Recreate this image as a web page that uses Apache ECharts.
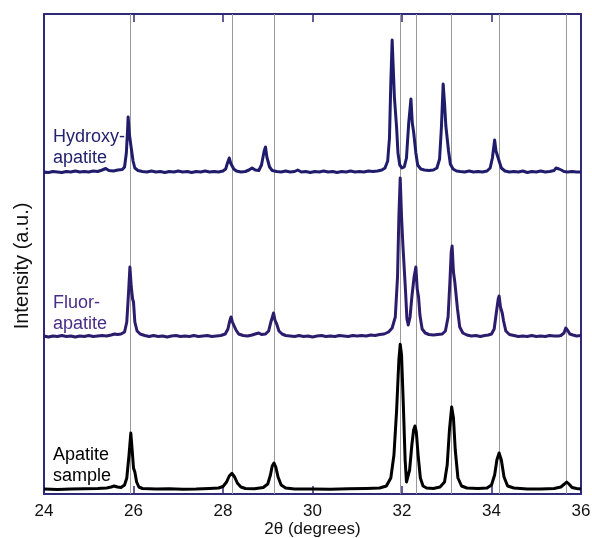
<!DOCTYPE html>
<html>
<head>
<meta charset="utf-8">
<script src="https://cdn.jsdelivr.net/npm/echarts@6/dist/echarts.min.js"></script>
<style>html,body{margin:0;padding:0;background:#fff}#c{width:592px;height:538px}</style>
</head>
<body>
<div id="c"></div>
<script>
// ---- data: [2theta (deg), intensity (a.u., relative to own baseline)] ----
const seriesNames = ["Hydroxy-\napatite", "Fluor-\napatite", "Apatite\nsample"];
const offsets = [317, 153, 0];          // vertical stacking offsets (a.u.)
const refLines = [25.93, 28.2, 29.14, 31.97, 32.31, 33.11, 34.17, 35.68];
const xTicks = [24, 26, 28, 30, 32, 34, 36];

const hydroxy = [
[24.0,1],[24.1,0.5],[24.2,1.5],[24.3,1],[24.4,0.5],[24.5,1.5],[24.6,1],[24.7,2],[24.8,1],[24.9,1.5],[25.0,1],[25.1,2],[25.2,1.5],[25.3,3],[25.38,4.5],[25.45,2.5],[25.55,2],[25.65,3],[25.75,3.5],[25.8,6],[25.84,20],[25.87,45],[25.88,56],[25.91,38],[25.94,28],[25.96,28],[25.99,12],[26.03,5],[26.1,2.5],[26.2,1.5],[26.3,1],[26.4,2],[26.5,1],[26.6,1.5],[26.7,0.5],[26.8,1.5],[26.9,1],[27.0,2],[27.1,1],[27.2,1.5],[27.3,0.5],[27.4,1.5],[27.5,1],[27.6,2],[27.7,1],[27.8,1.5],[27.9,1],[28.0,2],[28.06,4],[28.1,10],[28.14,15],[28.17,10],[28.2,8],[28.24,4],[28.3,2],[28.4,1],[28.5,1.5],[28.58,3],[28.65,5],[28.72,3],[28.8,2.5],[28.86,8],[28.92,22],[28.95,26],[28.98,16],[29.0,14],[29.04,6],[29.1,2.5],[29.2,1.5],[29.3,1],[29.4,2],[29.5,1],[29.6,1.5],[29.67,3],[29.75,1],[29.85,1.5],[29.95,0.5],[30.05,1.5],[30.15,1],[30.25,2],[30.35,1],[30.45,1.5],[30.55,0.5],[30.65,1.5],[30.75,1],[30.85,2],[30.95,1],[31.05,1.5],[31.15,1],[31.25,2],[31.35,1.5],[31.45,2],[31.55,3],[31.62,5],[31.68,12],[31.72,35],[31.75,90],[31.78,133],[31.8,110],[31.83,76],[31.86,76],[31.88,45],[31.91,20],[31.95,8],[32.0,5],[32.05,6],[32.1,15],[32.15,50],[32.2,74],[32.23,50],[32.26,41],[32.28,40],[32.31,20],[32.35,8],[32.42,4],[32.5,3],[32.6,2.5],[32.7,3],[32.78,5],[32.84,14],[32.88,45],[32.92,89],[32.95,70],[32.98,47],[33.01,45],[33.04,22],[33.08,9],[33.14,4],[33.22,2],[33.3,1.5],[33.4,1],[33.5,2],[33.6,1],[33.7,1.5],[33.8,1],[33.9,2],[33.97,5],[34.02,15],[34.07,33],[34.1,22],[34.14,20],[34.17,12],[34.22,5],[34.3,2],[34.4,1],[34.5,1.5],[34.6,1],[34.7,2],[34.8,0.5],[34.9,1.5],[35.0,1],[35.1,2],[35.2,1],[35.3,1.5],[35.4,2.5],[35.44,5],[35.47,7],[35.51,4],[35.56,3],[35.62,1.5],[35.7,1],[35.8,1.5],[35.9,1],[36.0,1]
];

const fluor = [
[24.0,1],[24.1,0],[24.2,1],[24.3,0.5],[24.4,1.5],[24.5,0.5],[24.6,1],[24.7,0],[24.8,1],[24.9,0.5],[25.0,1.5],[25.1,0.5],[25.2,1],[25.3,1.5],[25.4,1],[25.5,2],[25.58,3],[25.64,2.5],[25.72,3],[25.8,5],[25.85,15],[25.89,45],[25.92,70],[25.95,50],[25.98,38],[26.0,35],[26.03,15],[26.08,6],[26.15,3],[26.25,1.5],[26.35,0.5],[26.45,1.5],[26.55,0.5],[26.65,1],[26.75,0],[26.85,1],[26.95,1.5],[27.05,0.5],[27.15,1],[27.25,0.5],[27.35,1.5],[27.45,0.5],[27.55,1],[27.65,1.5],[27.75,0.5],[27.85,1],[27.95,1.5],[28.05,3],[28.11,8],[28.15,16],[28.18,20],[28.21,15],[28.25,13],[28.29,7],[28.35,3],[28.45,1.5],[28.55,1],[28.65,2],[28.72,3],[28.8,4],[28.86,2.5],[28.95,3],[29.02,6],[29.07,15],[29.13,24],[29.16,17],[29.2,13],[29.25,6],[29.32,3],[29.4,1.5],[29.5,1],[29.6,0.5],[29.7,1.5],[29.8,0.5],[29.9,1],[30.0,0],[30.1,1],[30.2,1.5],[30.3,0.5],[30.4,1],[30.5,0.5],[30.6,1.5],[30.7,1],[30.8,0.5],[30.9,1.5],[31.0,1],[31.1,1.5],[31.2,1],[31.3,2],[31.4,1.5],[31.5,2.5],[31.6,3],[31.7,5],[31.78,9],[31.85,20],[31.9,60],[31.93,120],[31.96,159],[31.99,120],[32.02,92],[32.05,90],[32.08,45],[32.11,18],[32.14,12],[32.18,20],[32.22,40],[32.27,60],[32.31,70],[32.34,48],[32.37,40],[32.4,22],[32.45,8],[32.52,4],[32.6,2.5],[32.7,2],[32.8,2.5],[32.9,3],[32.97,6],[33.03,20],[33.07,55],[33.1,85],[33.12,91],[33.15,65],[33.18,55],[33.21,54],[33.24,28],[33.29,10],[33.36,4],[33.45,2],[33.55,1],[33.65,1.5],[33.75,0.5],[33.85,1.5],[33.93,2],[34.0,3],[34.06,8],[34.11,25],[34.15,38],[34.17,41],[34.2,30],[34.24,24],[34.27,16],[34.32,6],[34.4,2.5],[34.5,1.5],[34.6,0.5],[34.7,1],[34.8,0.5],[34.9,1.5],[35.0,0.5],[35.1,1],[35.2,0.5],[35.3,1.5],[35.4,1],[35.5,1],[35.55,1.5],[35.62,4],[35.66,9],[35.68,10],[35.71,6],[35.75,3],[35.82,2],[35.9,1],[36.0,1.5]
];

const apatite = [
[24.0,1],[24.3,0.5],[24.6,1],[24.9,1.2],[25.2,1.5],[25.4,2],[25.5,3],[25.57,4],[25.64,3],[25.72,2.5],[25.8,5],[25.85,12],[25.9,35],[25.94,57],[25.97,40],[26.0,22],[26.03,18],[26.07,8],[26.12,3],[26.2,1.5],[26.5,1],[26.8,1.2],[27.1,0.8],[27.4,1],[27.7,1.5],[27.9,2],[28.0,3.5],[28.08,8],[28.14,14],[28.2,16.7],[28.26,13],[28.32,7],[28.4,3],[28.5,1.5],[28.7,1.2],[28.9,2.5],[29.0,6],[29.06,15],[29.1,24],[29.14,27],[29.18,23],[29.23,13],[29.3,5],[29.4,2],[29.6,1],[30.0,1],[30.4,0.8],[30.8,1.2],[31.2,1.5],[31.5,2],[31.65,4],[31.75,12],[31.82,35],[31.88,80],[31.93,130],[31.96,145.7],[31.99,135],[32.03,85],[32.07,30],[32.1,8],[32.13,6],[32.17,20],[32.22,45],[32.26,60],[32.29,64],[32.32,58],[32.36,35],[32.41,12],[32.47,4],[32.55,2],[32.7,1.5],[32.85,3],[32.95,8],[33.01,25],[33.06,60],[33.11,83],[33.15,72],[33.19,40],[33.25,12],[33.33,4],[33.45,2],[33.7,1.5],[33.9,2],[34.0,5],[34.07,15],[34.12,30],[34.17,37],[34.22,30],[34.28,13],[34.36,4],[34.5,2],[34.8,1],[35.1,1],[35.4,1.5],[35.55,3],[35.63,6],[35.68,8],[35.73,6],[35.8,2.5],[35.9,1.5],[36.0,1]
];

// ---- styling ----
const FONT = "'Liberation Sans', Arial, Helvetica, sans-serif";
const FRAME = '#2e2a78';
const lineColors = ['#201c6c', '#2c1c6c', '#000000'];
const labelColors = ['#22226e', '#4a2d88', '#000000'];
const seriesData = [hydroxy, fluor, apatite];

const chart = echarts.init(document.getElementById('c'), null, {renderer: 'canvas'});

const series = seriesData.map((d, i) => ({
  type: 'line',
  name: seriesNames[i],
  data: d.map(p => [p[0], p[1] + offsets[i]]),
  showSymbol: false,
  symbol: 'none',
  smooth: false,
  lineStyle: {color: lineColors[i], width: 3, join: 'round'},
  z: 5,
  animation: false
}));

series.push({
  type: 'line',
  data: [],
  z: 1,
  silent: true,
  animation: false,
  markLine: {
    silent: true,
    symbol: ['none', 'none'],
    label: {show: false},
    lineStyle: {color: '#9a9a9a', width: 1, type: 'solid'},
    animation: false,
    data: refLines.map(v => ({xAxis: v}))
  }
});

const option = {
  animation: false,
  backgroundColor: '#ffffff',
  grid: {left: 44, right: 11, top: 14, bottom: 44, containLabel: false, outerBoundsMode: 'none'},
  xAxis: [{
    type: 'value', position: 'bottom', min: 24, max: 36, interval: 2,
    axisLine: {show: true, onZero: false, lineStyle: {color: FRAME, width: 2}},
    axisTick: {show: true, inside: true, length: 8, lineStyle: {color: FRAME, width: 1.5}},
    axisLabel: {show: true, color: '#111', fontSize: 17, fontFamily: FONT, margin: 9,
      formatter: v => xTicks.includes(v) ? String(v) : ''},
    splitLine: {show: false},
    name: '2θ (degrees)', nameLocation: 'middle', nameGap: 27, nameMoveOverlap: false,
    nameTextStyle: {color: '#111', fontSize: 17, fontFamily: FONT}
  }, {
    type: 'value', position: 'top', min: 24, max: 36, interval: 2,
    axisLine: {show: true, onZero: false, lineStyle: {color: FRAME, width: 2}},
    axisTick: {show: true, inside: true, length: 8, lineStyle: {color: FRAME, width: 1.5}},
    axisLabel: {show: false}, splitLine: {show: false}
  }],
  yAxis: [{
    type: 'value', position: 'left', min: -4, max: 476,
    axisLine: {show: true, onZero: false, lineStyle: {color: FRAME, width: 2}},
    axisTick: {show: true, inside: true, length: 5, customValues: [offsets[1], offsets[0]],
      lineStyle: {color: FRAME, width: 1.5}},
    axisLabel: {show: false}, splitLine: {show: false}
  }, {
    type: 'value', position: 'right', min: -4, max: 476,
    axisLine: {show: true, onZero: false, lineStyle: {color: FRAME, width: 2}},
    axisTick: {show: false}, axisLabel: {show: false}, splitLine: {show: false}
  }],
  series: series,
  graphic: [
    {type: 'text', left: 53, top: 127, z: 10,
      style: {text: seriesNames[0], fill: labelColors[0], font: '18px ' + FONT, lineHeight: 21}},
    {type: 'text', left: 53, top: 293, z: 10,
      style: {text: seriesNames[1], fill: labelColors[1], font: '18px ' + FONT, lineHeight: 21}},
    {type: 'text', left: 53, top: 445, z: 10,
      style: {text: seriesNames[2], fill: labelColors[2], font: '18px ' + FONT, lineHeight: 21}},
    {type: 'text', x: 22, y: 266, rotation: Math.PI / 2, z: 10,
      style: {text: 'Intensity (a.u.)', fill: '#111', font: '20px ' + FONT,
        textAlign: 'center', textVerticalAlign: 'middle'}}
  ]
};
chart.setOption(option);
</script>
</body>
</html>
